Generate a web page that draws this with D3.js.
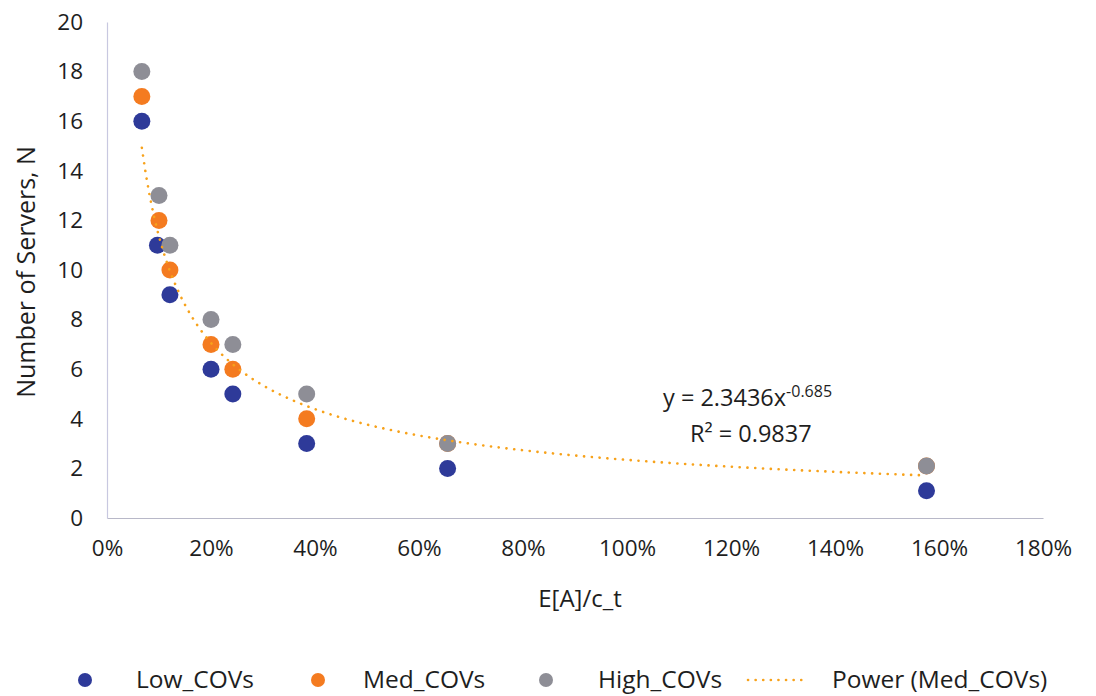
<!DOCTYPE html>
<html>
<head>
<meta charset="utf-8">
<script src="https://cdn.jsdelivr.net/npm/d3@7"></script>
<style>
  body { margin: 0; background: #fff; }
  text { font-family: "Open Sans", Lato, sans-serif; fill: #1e1e1e; }
</style>
</head>
<body>
<svg id="chart"></svg>
<script>
// values (x as a fraction, y = servers)
const lowX = [0.067, 0.097, 0.121, 0.20, 0.242, 0.384, 0.655, 1.576];
const lowY = [16, 11, 9, 6, 5, 3, 2, 1.1];
const medX = [0.067, 0.100, 0.121, 0.20, 0.242, 0.384, 0.655, 1.576];
const medY = [17, 12, 10, 7, 6, 4, 3, 2.1];
const highX = [0.067, 0.100, 0.121, 0.20, 0.242, 0.384, 0.655, 1.576];
const highY = [18, 13, 11, 8, 7, 5, 3, 2.1];
const xTicks = [0, 0.2, 0.4, 0.6, 0.8, 1.0, 1.2, 1.4, 1.6, 1.8];
const yTicks = [0, 2, 4, 6, 8, 10, 12, 14, 16, 18, 20];
const fitA = 2.3436, fitB = -0.685;

const width = 1096, height = 696;
const margin = {left: 107, right: 53, top: 22, bottom: 178};

const svg = d3.select("#chart").attr("width", width).attr("height", height);

const x = d3.scaleLinear().domain([0, 1.8]).range([margin.left, width - margin.right]);
const y = d3.scaleLinear().domain([0, 20]).range([height - margin.bottom, margin.top]);

// axes
svg.append("g")
  .attr("transform", "translate(0," + y(0) + ")")
  .call(d3.axisBottom(x).tickValues(xTicks).tickFormat(d3.format(".0%")).tickSize(0).tickPadding(22))
  .call(g => g.select(".domain").attr("stroke", "#b8b8c8").attr("stroke-width", 1.2))
  .selectAll("text").style("font-size", "22.5px").attr("fill", "#1e1e1e");

svg.append("g")
  .attr("transform", "translate(" + x(0) + ",0)")
  .call(d3.axisLeft(y).tickValues(yTicks).tickSize(0).tickPadding(24))
  .call(g => g.select(".domain").attr("stroke", "#c8c8e0").attr("stroke-width", 1.2))
  .selectAll("text").style("font-size", "22.5px").attr("fill", "#1e1e1e");

// axis titles
svg.append("text")
  .attr("x", 580).attr("y", 607)
  .attr("text-anchor", "middle")
  .style("font-size", "24px")
  .text("E[A]/c_t");

svg.append("text")
  .attr("transform", "translate(35," + 272 + ") rotate(-90)")
  .attr("text-anchor", "middle")
  .style("font-size", "25px")
  .text("Number of Servers, N");

// trendline (power fit of Med_COVs)
const fitX = d3.range(0, 201).map(i => medX[0] + (medX[medX.length - 1] - medX[0]) * i / 200);
const line = d3.line().x(d => x(d)).y(d => y(fitA * Math.pow(d, fitB)));

const series = [
  {name: "Low_COVs", xs: lowX, ys: lowY, color: "#2e3a99"},
  {name: "Med_COVs", xs: medX, ys: medY, color: "#f47b20"},
  {name: "High_COVs", xs: highX, ys: highY, color: "#8e8e96"}
];

series.forEach(s => {
  svg.append("g")
    .selectAll("circle")
    .data(s.xs.map((v, i) => [v, s.ys[i]]))
    .enter()
    .append("circle")
    .attr("cx", d => x(d[0]))
    .attr("cy", d => y(d[1]))
    .attr("r", 8.5)
    .attr("fill", s.color);
});

svg.append("path")
  .datum(fitX)
  .attr("d", line)
  .attr("fill", "none")
  .attr("stroke", "#f7a21b")
  .attr("stroke-width", 2.6)
  .attr("stroke-linecap", "round")
  .attr("stroke-dasharray", "0.1,7.7");

// equation
svg.append("text")
  .attr("x", 663).attr("y", 406)
  .style("font-size", "23.5px")
  .html('y = 2.3436x<tspan dy="-9" style="font-size:16px">-0.685</tspan>');

svg.append("text")
  .attr("x", 690).attr("y", 442)
  .style("font-size", "23.5px")
  .text("R² = 0.9837");

// legend
const legend = [
  {name: "Low_COVs", color: "#2e3a99", dot: 85, tx: 136},
  {name: "Med_COVs", color: "#f47b20", dot: 318, tx: 363},
  {name: "High_COVs", color: "#8e8e96", dot: 546, tx: 598}
];
const lg = svg.append("g");
legend.forEach(l => {
  lg.append("circle").attr("cx", l.dot).attr("cy", 680).attr("r", 7).attr("fill", l.color);
  lg.append("text").attr("x", l.tx).attr("y", 688).style("font-size", "24.5px").text(l.name);
});
lg.append("line")
  .attr("x1", 748).attr("x2", 808).attr("y1", 680).attr("y2", 680)
  .attr("stroke", "#f7a21b").attr("stroke-width", 2.6)
  .attr("stroke-linecap", "round").attr("stroke-dasharray", "0.1,7.5");
lg.append("text").attr("x", 832).attr("y", 688).style("font-size", "24.5px").text("Power (Med_COVs)");
</script>
</body>
</html>
